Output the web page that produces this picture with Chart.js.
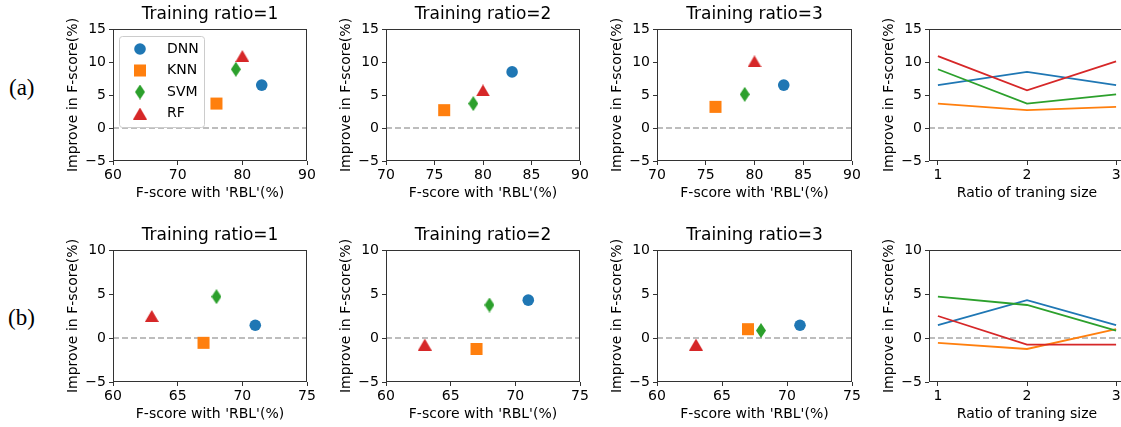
<!DOCTYPE html>
<html>
<head>
<meta charset="utf-8">
<script src="https://cdn.jsdelivr.net/npm/chart.js@4.4.1/dist/chart.umd.min.js"></script>
<style>
  html, body { margin: 0; padding: 0; background: #fff; overflow: hidden; }
  #wrap { position: relative; width: 1121px; height: 427px; overflow: hidden; background: #fff; }
  #wrap canvas { position: absolute; }
  .row-label { position: absolute; font-family: 'Liberation Serif', 'DejaVu Serif', serif; font-size: 23px; line-height: 24px; color: #000; }
</style>
</head>
<body>
<div id="wrap">
  <div class="row-label" style="left:9px; top:76px;">(a)</div>
  <div class="row-label" style="left:8px; top:306px;">(b)</div>
  <canvas id="a1"></canvas>
  <canvas id="a2"></canvas>
  <canvas id="a3"></canvas>
  <canvas id="a4"></canvas>
  <canvas id="b1"></canvas>
  <canvas id="b2"></canvas>
  <canvas id="b3"></canvas>
  <canvas id="b4"></canvas>
</div>
<script>
// モデルと色
const MODELS = ['DNN', 'KNN', 'SVM', 'RF'];
const COLORS = ['#1f77b4', '#ff7f0e', '#2ca02c', '#d62728'];
const RATIOS = [1, 2, 3];

// F-score with 'RBL' (%) for each model
const BASE_A = [83, 76, 79, 80];
const BASE_B = [71, 67, 68, 63];

// improve in F-score (%) at training ratio 1, 2, 3
const A_DNN = [6.5, 8.5, 6.5];
const A_KNN = [3.7, 2.7, 3.2];
const A_SVM = [8.9, 3.7, 5.1];
const A_RF  = [10.9, 5.7, 10.1];
const B_DNN = [1.45, 4.3, 1.45];
const B_KNN = [-0.55, -1.25, 1.0];
const B_SVM = [4.7, 3.75, 0.85];
const B_RF  = [2.5, -0.75, -0.75];

// tick labels
const Y_TICKS_A = [-5, 0, 5, 10, 15];
const Y_TICKS_B = [-5, 0, 5, 10];
const X_TICKS_A1 = [60, 70, 80, 90];
const X_TICKS_A23 = [70, 75, 80, 85, 90];
const X_TICKS_B = [60, 65, 70, 75];
const X_TICKS_RATIO = [1, 2, 3];

const FONT = 'DejaVu Sans';
const SPINE = '#333333';
const Y_AXIS_W = 48;   // 軸ラベル分の幅
const X_AXIS_H = 44;
const TOP_H = 30;
const PLOT_H = 132;
const RIGHT_PAD = 20;

// matplotlib 風のマーカー（細いダイヤと三角）
function markerCanvas(w, h, color, pts) {
  const c = document.createElement('canvas');
  c.width = w;
  c.height = h;
  const g = c.getContext('2d');
  g.fillStyle = color;
  g.beginPath();
  pts.forEach(([px, py], i) => {
    if (i === 0) g.moveTo(px * w, py * h);
    else g.lineTo(px * w, py * h);
  });
  g.closePath();
  g.fill();
  return c;
}
const DIAMOND = markerCanvas(10, 15, COLORS[2], [[0.5, 0], [1, 0.5], [0.5, 1], [0, 0.5]]);
const TRIANGLE = markerCanvas(14, 12, COLORS[3], [[0.5, 0], [1, 1], [0, 1]]);
const MARKER_STYLES = ['circle', 'rect', DIAMOND, TRIANGLE];
const MARKER_RADII = [5.8, 8.5, 7, 7];

// 枠線（四辺）
const framePlugin = {
  id: 'frame',
  afterDraw(chart) {
    const { ctx, chartArea: a } = chart;
    ctx.save();
    ctx.strokeStyle = SPINE;
    ctx.lineWidth = 1;
    ctx.strokeRect(Math.round(a.left) + 0.5, Math.round(a.top) + 0.5,
      Math.round(a.right - a.left) - 1, Math.round(a.bottom - a.top) - 1);
    ctx.restore();
  }
};

// プロット内の凡例
const boxLegendPlugin = {
  id: 'boxLegend',
  afterDraw(chart) {
    const { ctx, chartArea: a } = chart;
    const x0 = a.left + 6, y0 = a.top + 7, w = 85, h = 91;
    ctx.save();
    ctx.fillStyle = 'rgba(255,255,255,0.8)';
    ctx.strokeStyle = '#cccccc';
    ctx.lineWidth = 1;
    ctx.beginPath();
    ctx.roundRect(x0 + 0.5, y0 + 0.5, w, h, 3);
    ctx.fill();
    ctx.stroke();
    ctx.font = '14px "' + FONT + '"';
    ctx.textBaseline = 'middle';
    ctx.textAlign = 'left';
    let row = 0;
    chart.data.datasets.forEach(ds => {
      if (!ds.inLegend) return;
      const y = y0 + 13 + row * 21.5;
      ctx.fillStyle = ds.backgroundColor;
      Chart.helpers.drawPoint(ctx, {
        pointStyle: ds.pointStyle, radius: ds.pointRadius, rotation: 0, borderWidth: 0
      }, x0 + 21, y);
      ctx.fillStyle = '#000';
      ctx.fillText(ds.label, x0 + 48, y);
      row++;
    });
    ctx.restore();
  }
};

function fmtTick(v) {
  return v < 0 ? '\u2212' + Math.abs(v) : String(v);
}

const panels = [
  { id: 'a1', left: 113, top: 29, w: 194, row: 'a', kind: 'scatter', ratio: 0, xTicks: X_TICKS_A1, title: 'Training ratio=1', legend: true },
  { id: 'a2', left: 386, top: 29, w: 194, row: 'a', kind: 'scatter', ratio: 1, xTicks: X_TICKS_A23, title: 'Training ratio=2' },
  { id: 'a3', left: 657, top: 29, w: 195, row: 'a', kind: 'scatter', ratio: 2, xTicks: X_TICKS_A23, title: 'Training ratio=3' },
  { id: 'a4', left: 929, top: 29, w: 196, row: 'a', kind: 'line', xTicks: X_TICKS_RATIO, title: '' },
  { id: 'b1', left: 113, top: 250, w: 194, row: 'b', kind: 'scatter', ratio: 0, xTicks: X_TICKS_B, title: 'Training ratio=1' },
  { id: 'b2', left: 386, top: 250, w: 194, row: 'b', kind: 'scatter', ratio: 1, xTicks: X_TICKS_B, title: 'Training ratio=2' },
  { id: 'b3', left: 657, top: 250, w: 195, row: 'b', kind: 'scatter', ratio: 2, xTicks: X_TICKS_B, title: 'Training ratio=3' },
  { id: 'b4', left: 929, top: 250, w: 196, row: 'b', kind: 'line', xTicks: X_TICKS_RATIO, title: '' }
];

function makeChart(p) {
  const rowData = p.row === 'a' ? [A_DNN, A_KNN, A_SVM, A_RF] : [B_DNN, B_KNN, B_SVM, B_RF];
  const base = p.row === 'a' ? BASE_A : BASE_B;
  const yTicks = p.row === 'a' ? Y_TICKS_A : Y_TICKS_B;
  const isLine = p.kind === 'line';
  const xMin = isLine ? 0.9 : p.xTicks[0];
  const xMax = isLine ? 3.1 : p.xTicks[p.xTicks.length - 1];

  let datasets;
  if (isLine) {
    datasets = MODELS.map((m, i) => ({
      label: m,
      data: RATIOS.map((r, k) => ({ x: r, y: rowData[i][k] })),
      showLine: true,
      pointRadius: 0,
      borderColor: COLORS[i],
      backgroundColor: COLORS[i],
      borderWidth: 1.8,
      order: 4 - i
    }));
  } else {
    datasets = MODELS.map((m, i) => ({
      label: m,
      data: [{ x: base[i], y: rowData[i][p.ratio] }],
      showLine: false,
      pointStyle: MARKER_STYLES[i],
      pointRadius: MARKER_RADII[i],
      backgroundColor: COLORS[i],
      borderWidth: 0,
      inLegend: true,
      order: 4 - i
    }));
  }
  // y=0 の破線
  datasets.push({
    label: 'zero',
    data: [{ x: xMin, y: 0 }, { x: xMax, y: 0 }],
    showLine: true,
    pointRadius: 0,
    borderColor: '#a8a8a8',
    borderDash: [6, 3],
    borderWidth: 1.4,
    order: 10
  });

  const canvas = document.getElementById(p.id);
  canvas.width = Y_AXIS_W + p.w + RIGHT_PAD;
  canvas.height = TOP_H + PLOT_H + X_AXIS_H;
  canvas.style.left = (p.left - Y_AXIS_W) + 'px';
  canvas.style.top = (p.top - TOP_H) + 'px';

  const tickFont = { family: FONT, size: 14 };
  const plugins = [framePlugin];
  if (p.legend) plugins.push(boxLegendPlugin);

  return new Chart(canvas, {
    type: 'scatter',
    data: { datasets },
    plugins,
    options: {
      responsive: false,
      animation: false,
      devicePixelRatio: 1,
      layout: { padding: { left: 0, right: RIGHT_PAD, top: p.title ? 0 : TOP_H, bottom: 0 } },
      plugins: {
        legend: { display: false },
        tooltip: { enabled: false },
        title: {
          display: !!p.title,
          text: p.title,
          fullSize: false,
          color: '#000',
          font: { family: FONT, size: 17, weight: 'normal' },
          padding: { top: 5, bottom: 4.6 }
        }
      },
      scales: {
        x: {
          type: 'linear',
          min: xMin,
          max: xMax,
          afterBuildTicks: s => { s.ticks = p.xTicks.map(v => ({ value: v })); },
          afterFit: s => { s.height = X_AXIS_H; },
          grid: { drawOnChartArea: false, drawTicks: true, tickLength: 4, color: SPINE },
          border: { display: false },
          ticks: { font: tickFont, color: '#000', padding: 2, maxRotation: 0, callback: fmtTick },
          title: {
            display: true,
            text: isLine ? 'Ratio of traning size' : "F-score with 'RBL'(%)",
            color: '#000',
            font: tickFont,
            padding: { top: 0, bottom: 3 }
          }
        },
        y: {
          type: 'linear',
          min: yTicks[0],
          max: yTicks[yTicks.length - 1],
          afterBuildTicks: s => { s.ticks = yTicks.map(v => ({ value: v })); },
          afterFit: s => { s.width = Y_AXIS_W; },
          grid: { drawOnChartArea: false, drawTicks: true, tickLength: 4, color: SPINE },
          border: { display: false },
          ticks: { font: tickFont, color: '#000', padding: 3, callback: fmtTick },
          title: {
            display: true,
            text: 'Improve in F-score(%)',
            color: '#000',
            font: tickFont,
            padding: { top: 0, bottom: 0 }
          }
        }
      }
    }
  });
}

panels.forEach(makeChart);
</script>
</body>
</html>
